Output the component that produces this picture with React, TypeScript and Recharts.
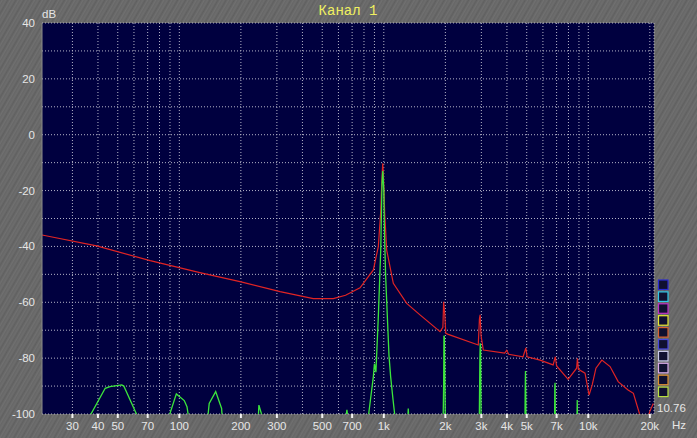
import { LineChart, Line, XAxis, YAxis, CartesianGrid, ReferenceLine } from "recharts";

// spectrum, channel 1 — frequency (Hz) / level (dB)
const redFreq = [
  21.3, 39.4, 72, 126, 198, 311, 452, 566, 650, 765, 889, 940, 965, 980, 988, 995, 1010, 1033,
  1113, 1294, 1503, 1884, 1945, 1962, 1985, 2010, 2066, 2897, 2935, 2958, 2990, 3067, 3900, 3990,
  4080, 4800, 4950, 5020, 5810, 6730, 6900, 7000, 7970, 8770, 8850, 8950, 9640, 10090, 10450,
  10900, 11650, 12780, 14000, 15650, 16620, 17870, 18500, 19270, 20000, 20800,
];
const redDb = [
  -35.9, -39.8, -45.1, -49.4, -52.6, -56.2, -58.7, -58.7, -57.5, -54.8, -48.4, -40.1, -28, -15,
  -10.2, -14, -28, -41.3, -53.2, -60.4, -64.5, -70.5, -69, -59.8, -64, -71.1, -71.5, -75.3, -66,
  -64.5, -72, -77.1, -78.2, -77.2, -78.6, -79.5, -76.3, -79.5, -80.7, -82.4, -79.5, -82.8, -87.6,
  -83.6, -80.1, -84, -85.4, -93.2, -89.6, -83.6, -80.7, -83, -88.4, -91.4, -92.6, -100.3, -104,
  -104, -99, -96.2,
];

const greenFreq = [
  21.3, 34.5, 43.4, 45.8, 52.3, 53.5, 63.5, 88, 96.7, 105.7, 109, 112, 137, 140, 150.6, 161, 163,
  243, 245, 257, 650, 660, 668, 840, 889, 900, 915, 940, 966, 980, 988, 1000, 1006, 1021, 1044,
  1060, 1080, 1110, 1134, 1310, 1317, 1325, 1950, 1962, 1968, 1978, 1990, 2000, 2930, 2950, 2962,
  2975, 2990, 4900, 4915, 4930, 4945, 4960, 6840, 6860, 6880, 6900, 8800, 8830, 8860, 20960,
];
const greenDb = [
  -110, -104, -90.8, -90.2, -89.6, -90, -102, -102, -92.8, -95.2, -97.4, -103, -103, -96.2, -92,
  -98, -104, -102, -96.8, -102, -102, -98.5, -102, -101, -86.6, -82, -85, -65.2, -41.3, -17.4, -13,
  -20, -33, -50.8, -67.5, -79, -86.6, -95, -101, -102, -98, -102, -103, -89, -72, -72.5, -89, -103,
  -103, -80, -74.7, -76, -103, -103, -91, -84.6, -92, -103, -103, -90, -88.8, -103, -103, -95, -103,
  -110,
];

const gridFreqs = [
  30, 40, 50, 60, 70, 80, 90, 100, 200, 300, 400, 500, 600, 700, 800, 900, 1000, 2000, 3000, 4000,
  5000, 6000, 7000, 8000, 9000, 10000, 20000,
];
const labelFreqs = [30, 40, 50, 70, 100, 200, 300, 500, 700, 1000, 2000, 3000, 4000, 5000, 7000, 10000, 20000];
const labelText = ["30", "40", "50", "70", "100", "200", "300", "500", "700", "1k", "2k", "3k", "4k", "5k", "7k", "10k", "20k"];
const dbTicks = [-100, -90, -80, -70, -60, -50, -40, -30, -20, -10, 0, 10, 20, 30, 40];
const legendColors = [
  "#2a2ad0", "#30c8e8", "#c030c8", "#e8e830", "#d86030", "#4848e0", "#c8c8e8", "#d8a8e8", "#e09030", "#b8e040",
];

const redData = redFreq.map((f, i) => ({ f, db: redDb[i] }));
const greenData = greenFreq.map((f, i) => ({ f, db: greenDb[i] }));

const labelColor = "#e6e6e6";
const font = "'Liberation Sans', Arial, sans-serif";

function FreqTick(props: any) {
  const { x, y, payload } = props;
  const i = labelFreqs.indexOf(payload.value);
  if (i < 0) return <g />;
  return (
    <g>
      <line x1={x} x2={x} y1={y} y2={y + 4} stroke="#f4f4f4" strokeWidth={2} />
      <text x={x} y={y + 16} textAnchor="middle" fill={labelColor} fontSize={11.5} fontFamily={font}>
        {labelText[i]}
      </text>
    </g>
  );
}

function DbTick(props: any) {
  const { x, y, payload } = props;
  if (payload.value % 20 !== 0) return <g />;
  return (
    <text x={x - 7} y={y + 4} textAnchor="end" fill={labelColor} fontSize={11.5} fontFamily={font}>
      {payload.value}
    </text>
  );
}

export default function App() {
  return (
    <div
      style={{
        position: "fixed",
        left: 0,
        top: 0,
        width: 697,
        height: 438,
        background:
          "repeating-linear-gradient(120deg, #626262 0px, #707070 2px, #676767 3px, #6d6d6d 5px, #606060 7px)",
      }}
    >
      <LineChart width={697} height={438} data={redData} margin={{ top: 23, right: 43, left: 6, bottom: 0 }}>
        <CartesianGrid
          fill="#00003f"
          stroke="#b4b4c8"
          strokeDasharray="1 2"
          horizontalValues={dbTicks}
          verticalValues={gridFreqs}
        />
        <XAxis
          dataKey="f"
          type="number"
          scale="log"
          domain={[21.3, 20960]}
          allowDataOverflow
          ticks={gridFreqs}
          interval={0}
          tick={<FreqTick />}
          tickSize={0}
          tickMargin={0}
          axisLine={false}
          height={24}
        />
        <YAxis
          type="number"
          domain={[-100, 40]}
          allowDataOverflow
          ticks={dbTicks}
          interval={0}
          tick={<DbTick />}
          tickSize={0}
          tickMargin={0}
          axisLine={{ stroke: "#8a8a8a" }}
          width={36}
        />
        <ReferenceLine x={20960} stroke="#b4b4c8" strokeDasharray="1 2" />
        <Line
          data={redData}
          dataKey="db"
          stroke="#e02424"
          strokeWidth={1.2}
          dot={false}
          isAnimationActive={false}
        />
        <Line
          data={greenData}
          dataKey="db"
          stroke="#3ce63c"
          strokeWidth={1.3}
          dot={false}
          isAnimationActive={false}
        />
      </LineChart>
      <svg width={697} height={438} style={{ position: "absolute", left: 0, top: 0, pointerEvents: "none" }}>
        <text x={348} y={15} textAnchor="middle" fill="#f0f060" fontSize={14} fontFamily="'Liberation Mono', monospace">
          Канал 1
        </text>
        <text x={42} y={18} fill={labelColor} fontSize={11.5} fontFamily={font}>
          dB
        </text>
        <text x={672} y={429} fill={labelColor} fontSize={11.5} fontFamily={font}>
          Hz
        </text>
        <text x={657} y={412} fill={labelColor} fontSize={11.5} fontFamily={font}>
          10.76
        </text>
        {legendColors.map((c, i) => (
          <rect
            key={c + i}
            x={658.5}
            y={280 + i * 11.9}
            width={9.5}
            height={9.5}
            fill="#101030"
            stroke={c}
            strokeWidth={1.2}
          />
        ))}
      </svg>
    </div>
  );
}
